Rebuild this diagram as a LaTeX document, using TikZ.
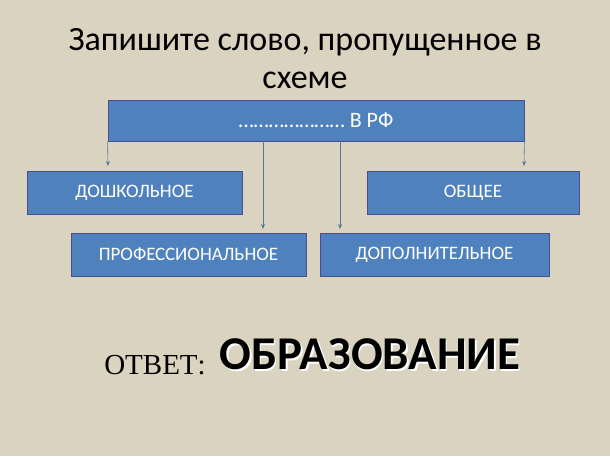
\documentclass[tikz,border=0pt]{standalone}
\usepackage{fontspec}
\usetikzlibrary{arrows.meta}
\setmainfont{Carlito}
\newfontfamily\tnr{Liberation Serif}
\begin{document}
\begin{tikzpicture}[x=1pt,y=-1pt,
  bx/.style={draw=blue!40!black!70, line width=0.8pt, fill={rgb,255:red,79;green,129;blue,189}, text=white, font=\fontsize{19}{22}\selectfont, inner sep=0pt},
  arr/.style={draw={rgb,255:red,90;green,120;blue,160}, line width=0.6pt, -{Stealth[length=5pt,width=4pt]}}]
\useasboundingbox[fill={rgb,255:red,217;green,211;blue,192}] (0,0) rectangle (610,456);
\node[font=\fontsize{34}{38}\selectfont, align=center] (title) at (305,59) {Запишите слово, пропущенное в\\схеме};
\node[bx, minimum width=416pt, minimum height=41pt, font=\fontsize{22}{26}\selectfont] (top) at (316,120.5) {………………… В РФ};
\node[bx, minimum width=215pt, minimum height=43pt] (d) at (134.5,192.5) {ДОШКОЛЬНОЕ};
\node[bx, minimum width=212pt, minimum height=43pt] (o) at (473,192.5) {ОБЩЕЕ};
\node[bx, minimum width=235pt, minimum height=43pt] (p) at (188.5,254.5) {ПРОФЕССИОНАЛЬНОЕ};
\node[bx, minimum width=229pt, minimum height=43pt] (dop) at (434.5,254.5) {ДОПОЛНИТЕЛЬНОЕ};
\coordinate (a1) at (108,166); \coordinate (a2) at (263,229);
\coordinate (a3) at (340,229); \coordinate (a4) at (524,166);
\draw[arr] (top.south west) -- (a1);
\draw[arr] (top.south west -| a2) -- (a2);
\draw[arr] (top.south west -| a3) -- (a3);
\draw[arr] (top.south east) -- (a4);
\node[font=\tnr\fontsize{29}{32}\selectfont] (ans) at (155,365) {ОТВЕТ:};
\node[font=\bfseries\fontsize{47}{50}\selectfont, text=white] at (371.5,356) {ОБРАЗОВАНИЕ};
\node[font=\bfseries\fontsize{47}{50}\selectfont, text=black] (word) at (370,354.5) {ОБРАЗОВАНИЕ};
\end{tikzpicture}
\end{document}
